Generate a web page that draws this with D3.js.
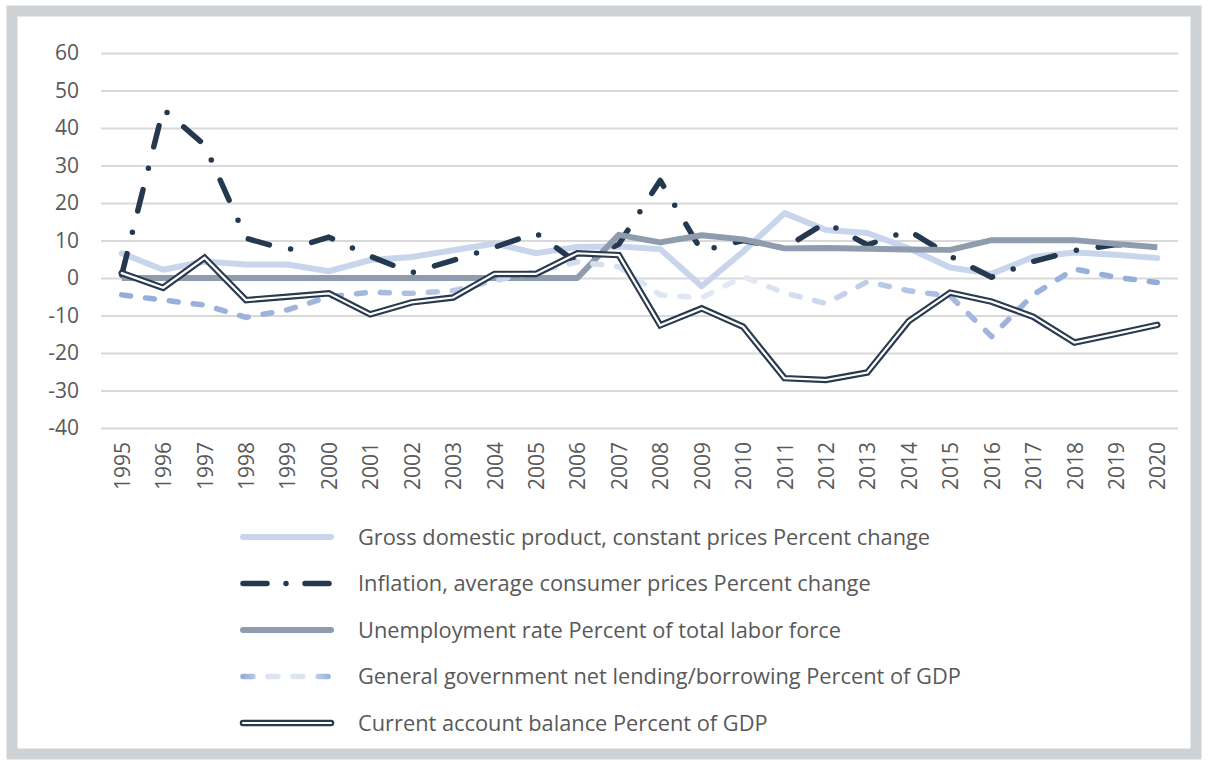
<!DOCTYPE html>
<html>
<head>
<meta charset="utf-8">
<script src="https://cdn.jsdelivr.net/npm/d3@7"></script>
<style>
  html, body { margin: 0; padding: 0; background: #ffffff; }
  svg { display: block; }
  text { font-family: "Open Sans", Lato, sans-serif; fill: #595959; }
</style>
</head>
<body>
<svg id="chart" width="1208" height="765"></svg>
<script>
const years = ["1995","1996","1997","1998","1999","2000","2001","2002","2003","2004","2005","2006","2007","2008","2009","2010","2011","2012","2013","2014","2015","2016","2017","2018","2019","2020"];
const yTicks = [-40,-30,-20,-10,0,10,20,30,40,50,60];

const gdp = [6.6,2.2,4.4,3.6,3.6,1.8,4.8,5.6,7.4,9.2,6.6,8.3,8.4,7.7,-2.2,7.0,17.3,12.8,12.0,7.9,2.8,1.1,5.6,6.8,6.2,5.3];
const inflation = [0.8,45.0,35.5,10.6,7.5,10.9,5.8,1.4,4.7,8.2,12.0,4.0,9.0,26.0,7.2,10.0,8.0,14.8,8.8,12.7,5.8,0.2,4.4,7.3,8.9,8.4];
const unemployment = [0,0,0,0,0,0,0,0,0,0,0,0,11.5,9.5,11.4,10.3,7.9,8.0,7.8,7.6,7.5,10.1,10.1,10.1,9.1,8.2];
const govLending = [-4.5,-5.9,-7.2,-10.5,-8.5,-5.0,-3.8,-4.1,-3.4,-0.7,1.6,4.3,3.0,-4.5,-5.3,0.4,-4.0,-6.8,-1.0,-3.4,-4.8,-15.6,-4.5,2.4,0.2,-1.2];
const currentAccount = [1.3,-2.6,5.4,-5.9,-5.0,-4.1,-9.7,-6.5,-5.2,1.1,1.1,6.6,6.1,-12.6,-8.1,-13.0,-26.7,-27.2,-25.2,-11.5,-3.9,-6.3,-10.3,-17.2,-14.9,-12.5];

const seriesNames = [
  "Gross domestic product, constant prices Percent change",
  "Inflation, average consumer prices Percent change",
  "Unemployment rate Percent of total labor force",
  "General government net lending/borrowing Percent of GDP",
  "Current account balance Percent of GDP"
];

const svg = d3.select("#chart");

// outer frame
svg.append("rect").attr("x", 12).attr("y", 11).attr("width", 1184).attr("height", 743)
  .attr("fill", "#ffffff").attr("stroke", "#cfd2d5").attr("stroke-width", 11);

const x = d3.scalePoint().domain(years).range([101, 1178]).padding(0.5);
const y = d3.scaleLinear().domain([-40, 60]).range([428, 53]);

// defs: gradients for government lending
const defs = svg.append("defs");
function govGradient(id, x1, x2, stops) {
  const g = defs.append("linearGradient").attr("id", id)
    .attr("gradientUnits", "userSpaceOnUse")
    .attr("x1", x1).attr("x2", x2).attr("y1", 0).attr("y2", 0);
  stops.forEach(s => g.append("stop").attr("offset", s[0]).attr("stop-color", s[1]));
}
govGradient("govGrad", 101, 1178, [[0,"#94acd9"],[0.25,"#a3b8df"],[0.36,"#c3d1ea"],[0.5,"#dde5f2"],[0.6,"#e4e9f3"],[0.7,"#c2cfe9"],[0.82,"#9fb5de"],[1,"#92abd9"]]);
govGradient("govGradLegend", 241, 333, [[0,"#8faadc"],[0.3,"#dde5f3"],[0.7,"#dde5f3"],[1,"#8faadc"]]);

// gridlines + y labels
const yAxis = d3.axisLeft(y).tickValues(yTicks).tickSize(-(1178 - 101)).tickPadding(22).tickFormat(d => String(d));
const gy = svg.append("g").attr("transform", "translate(101,0)").call(yAxis);
gy.select(".domain").remove();
gy.selectAll(".tick line").attr("stroke", "#d9d9d9").attr("stroke-width", 2);
gy.selectAll(".tick text").style("font-size", "21px").attr("fill", "#595959");

// x labels
const xAxis = d3.axisBottom(x).tickSize(0).tickPadding(0);
const gx = svg.append("g").attr("transform", "translate(0,428)").call(xAxis);
gx.select(".domain").remove();
gx.selectAll(".tick text")
  .style("font-size", "21px").attr("fill", "#595959")
  .attr("text-anchor", "end")
  .attr("transform", "rotate(-90)")
  .attr("x", -14).attr("y", 0).attr("dy", "0.36em");

const line = d3.line().x((d, i) => x(years[i])).y(d => y(d));

const plot = svg.append("g");
// GDP
plot.append("path").datum(gdp).attr("d", line)
  .attr("fill", "none").attr("stroke", "#c8d5ec").attr("stroke-width", 6)
  .attr("stroke-linejoin", "round").attr("stroke-linecap", "round");
// Inflation
plot.append("path").datum(inflation).attr("d", line)
  .attr("fill", "none").attr("stroke", "#243850").attr("stroke-width", 5.5)
  .attr("stroke-dasharray", "22 22 0 22")
  .attr("stroke-linejoin", "round").attr("stroke-linecap", "round");
// Unemployment
plot.append("path").datum(unemployment).attr("d", line)
  .attr("fill", "none").attr("stroke", "#8e9cad").attr("stroke-width", 6)
  .attr("stroke-linejoin", "round").attr("stroke-linecap", "butt");
// Gov lending
plot.append("path").datum(govLending).attr("d", line)
  .attr("fill", "none").attr("stroke", "url(#govGrad)").attr("stroke-width", 5.5)
  .attr("stroke-dasharray", "9 15")
  .attr("stroke-linejoin", "round").attr("stroke-linecap", "round");
// Current account (double line)
plot.append("path").datum(currentAccount).attr("d", line)
  .attr("fill", "none").attr("stroke", "#2a3a4e").attr("stroke-width", 6.5)
  .attr("stroke-linejoin", "miter").attr("stroke-linecap", "round");
plot.append("path").datum(currentAccount).attr("d", line)
  .attr("fill", "none").attr("stroke", "#ffffff").attr("stroke-width", 2.2)
  .attr("stroke-linejoin", "miter").attr("stroke-linecap", "round");

// Legend
const legendStyles = [
  {stroke: "#c8d5ec", width: 6, dash: null, cap: "round"},
  {stroke: "#243850", width: 5.5, dash: "24 19 0 19", cap: "round"},
  {stroke: "#8e9cad", width: 6, dash: null, cap: "round"},
  {stroke: "url(#govGradLegend)", width: 5.5, dash: "10 15", cap: "round"},
  {stroke: "#2a3a4e", width: 6.5, dash: null, cap: "round", double: true}
];
const legendY = d3.scalePoint().domain(seriesNames).range([537, 723]);
const lg = svg.append("g");
seriesNames.forEach((name, i) => {
  const st = legendStyles[i];
  const yy = legendY(name);
  const l = lg.append("line").attr("x1", 243).attr("x2", 331).attr("y1", yy).attr("y2", yy)
    .attr("stroke", st.stroke).attr("stroke-width", st.width).attr("stroke-linecap", st.cap);
  if (st.dash) l.attr("stroke-dasharray", st.dash);
  if (st.double) {
    lg.append("line").attr("x1", 243).attr("x2", 331).attr("y1", yy).attr("y2", yy)
      .attr("stroke", "#ffffff").attr("stroke-width", 2.2).attr("stroke-linecap", "round");
  }
  lg.append("text").attr("x", 358).attr("y", yy).attr("dy", "0.35em")
    .style("font-size", "21.8px").attr("fill", "#595959").text(name);
});
</script>
</body>
</html>
